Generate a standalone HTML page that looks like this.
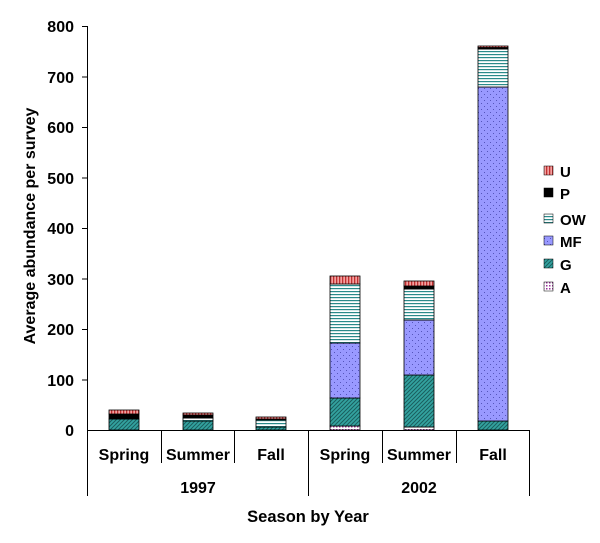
<!DOCTYPE html>
<html><head><style>body{margin:0;background:#fff}svg{display:block}text{font-family:"Liberation Sans",Arial,sans-serif;font-weight:bold;fill:#000}</style></head>
<body>
<svg width="600" height="543" viewBox="0 0 600 543" xmlns="http://www.w3.org/2000/svg">
<defs>
<pattern id="pU" width="3" height="3" patternUnits="userSpaceOnUse"><rect width="3" height="3" fill="#f4a0a0"/><rect width="1.3" height="3" fill="#c03030"/></pattern>
<pattern id="pOW" width="3" height="3" patternUnits="userSpaceOnUse"><rect width="3" height="3" fill="#fff"/><rect width="3" height="1.2" fill="#2a8a8a"/></pattern>
<pattern id="pMF" width="6" height="6" patternUnits="userSpaceOnUse"><rect width="6" height="6" fill="#9999ff"/><rect x="1" y="1" width="1" height="1" fill="#5555bb"/><rect x="4" y="4" width="1" height="1" fill="#5555bb"/></pattern>
<pattern id="pG" width="4" height="4" patternUnits="userSpaceOnUse"><rect width="4" height="4" fill="#33a3a0"/><path d="M0 4L4 0M-1 1L1 -1M3 5L5 3" stroke="#1a5e5e" stroke-width="1"/></pattern>
<pattern id="pA" width="3" height="3" patternUnits="userSpaceOnUse"><rect width="3" height="3" fill="#fff"/><rect width="1.5" height="1.5" fill="#993399"/></pattern>
</defs>
<g stroke="#000" stroke-width="1">
<line x1="87.5" y1="26" x2="87.5" y2="496"/>
<line x1="87" y1="430.5" x2="529.5" y2="430.5"/>
<line x1="529.5" y1="430" x2="529.5" y2="496"/>
<line x1="308.5" y1="430" x2="308.5" y2="496"/>
<line x1="161.5" y1="430" x2="161.5" y2="463"/>
<line x1="234.5" y1="430" x2="234.5" y2="463"/>
<line x1="382.5" y1="430" x2="382.5" y2="463"/>
<line x1="456.5" y1="430" x2="456.5" y2="463"/>
<line x1="82" y1="26.5" x2="87" y2="26.5"/><line x1="82" y1="77" x2="87" y2="77"/><line x1="82" y1="127.5" x2="87" y2="127.5"/><line x1="82" y1="178" x2="87" y2="178"/><line x1="82" y1="228.5" x2="87" y2="228.5"/><line x1="82" y1="279" x2="87" y2="279"/><line x1="82" y1="329.5" x2="87" y2="329.5"/><line x1="82" y1="380" x2="87" y2="380"/>
</g>
<g font-size="16" text-anchor="end">
<text x="74" y="32">800</text><text x="74" y="83">700</text><text x="74" y="133">600</text><text x="74" y="184">500</text><text x="74" y="234">400</text><text x="74" y="285">300</text><text x="74" y="335">200</text><text x="74" y="386">100</text><text x="74" y="436">0</text>
</g>
<text transform="translate(35,226) rotate(-90)" font-size="16" text-anchor="middle">Average abundance per survey</text>
<g font-size="16" text-anchor="middle">
<text x="124" y="460">Spring</text><text x="198" y="460">Summer</text><text x="271" y="460">Fall</text>
<text x="345" y="460">Spring</text><text x="419" y="460">Summer</text><text x="493" y="460">Fall</text>
<text x="198" y="493">1997</text><text x="419" y="493">2002</text>
<text x="308" y="522" font-size="16.5">Season by Year</text>
</g>
<g stroke="#000" stroke-width="0.8">
<rect x="109" y="419" width="30" height="11" fill="url(#pG)"/>
<rect x="109" y="414" width="30" height="5" fill="#000"/>
<rect x="109" y="410" width="30" height="4" fill="url(#pU)"/>
<rect x="183" y="421" width="30" height="9" fill="url(#pG)"/>
<rect x="183" y="418" width="30" height="3" fill="url(#pOW)"/>
<rect x="183" y="415" width="30" height="3" fill="#000"/>
<rect x="183" y="413" width="30" height="2" fill="url(#pU)"/>
<rect x="256" y="427" width="30" height="3" fill="url(#pG)"/>
<rect x="256" y="420" width="30" height="7" fill="url(#pOW)"/>
<rect x="256" y="419" width="30" height="1" fill="#000"/>
<rect x="256" y="417" width="30" height="2" fill="url(#pU)"/>
<rect x="330" y="426" width="30" height="4" fill="url(#pA)"/>
<rect x="330" y="398" width="30" height="28" fill="url(#pG)"/>
<rect x="330" y="343" width="30" height="55" fill="url(#pMF)"/>
<rect x="330" y="284" width="30" height="59" fill="url(#pOW)"/>
<rect x="330" y="276" width="30" height="8" fill="url(#pU)"/>
<rect x="404" y="427" width="30" height="3" fill="url(#pA)"/>
<rect x="404" y="375" width="30" height="52" fill="url(#pG)"/>
<rect x="404" y="320" width="30" height="55" fill="url(#pMF)"/>
<rect x="404" y="289" width="30" height="31" fill="url(#pOW)"/>
<rect x="404" y="286" width="30" height="3" fill="#000"/>
<rect x="404" y="281" width="30" height="5" fill="url(#pU)"/>
<rect x="478" y="421" width="30" height="9" fill="url(#pG)"/>
<rect x="478" y="87" width="30" height="334" fill="url(#pMF)"/>
<rect x="478" y="49" width="30" height="38" fill="url(#pOW)"/>
<rect x="478" y="47.5" width="30" height="1.5" fill="#000"/>
<rect x="478" y="46" width="30" height="1.5" fill="url(#pU)"/>
</g>
<g stroke="#000" stroke-width="0.5">
<rect x="544" y="166" width="9" height="9" fill="url(#pU)"/>
<rect x="544" y="188" width="9" height="9" fill="#000"/>
<rect x="544" y="214" width="9" height="9" fill="url(#pOW)"/>
<rect x="544" y="236" width="9" height="9" fill="url(#pMF)"/>
<rect x="544" y="259" width="9" height="9" fill="url(#pG)"/>
<rect x="544" y="282" width="9" height="9" fill="url(#pA)"/>
</g>
<g font-size="15">
<text x="560" y="177">U</text><text x="560" y="199">P</text><text x="560" y="225">OW</text><text x="560" y="247">MF</text><text x="560" y="270">G</text><text x="560" y="293">A</text>
</g>
</svg>
</body></html>
